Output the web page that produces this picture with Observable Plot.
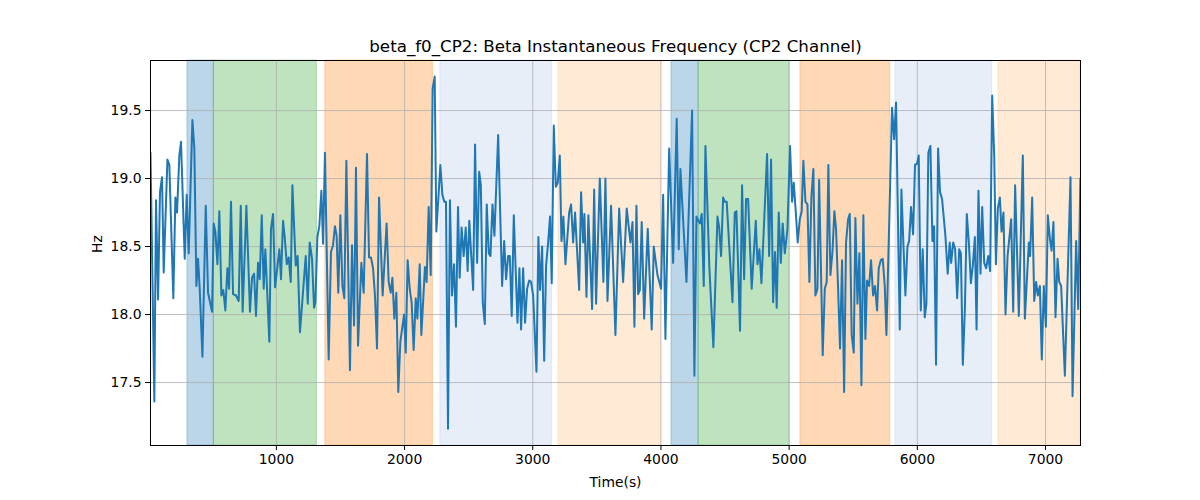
<!DOCTYPE html>
<html>
<head>
<meta charset="utf-8">
<script src="https://cdn.jsdelivr.net/npm/d3@7"></script>
<script src="https://cdn.jsdelivr.net/npm/@observablehq/plot@0.6"></script>
<style>
  html, body { margin: 0; padding: 0; background: #fff; }
  #chart svg { display: block; }
</style>
</head>
<body>
<div id="chart"></div>
<script>
const chartTitle = "beta_f0_CP2: Beta Instantaneous Frequency (CP2 Channel)";
const xLabel = "Time(s)";
const yLabel = "Hz";
const xTicks = [1000, 2000, 3000, 4000, 5000, 6000, 7000];
const yTicks = [17.5, 18.0, 18.5, 19.0, 19.5];

// Shaded segments
const bandStart = [306, 512, 1382, 2279, 3200, 4082, 4294, 5088, 5829, 6633];
const bandEnd   = [512, 1316, 2221, 3150, 4000, 4294, 5004, 5789, 6584, 7273];
const bandState = ["s0", "s1", "s2", "s3", "s4", "s0", "s1", "s2", "s3", "s4"];

// Time series (seconds, Hz)
const timeS = [
18,48,61,77,92,108,121,150,165,196,212,225,243,256,285,300,316,345,360,376,389,402,423,449,467,498,511,524,540,555,571,586,602,618,631,646,662,685,706,722,737,766,794,810,826,841,857,870,886,901,914,945,958,974,990,1023,1036,1052,1065,1081,1096,1112,1125,1151,1166,1184,1229,1245,1260,
1278,1294,1304,1320,1335,1351,1364,1379,1408,1426,1442,1457,1470,1483,1499,1515,1530,1546,1574,1590,1606,1621,1637,1663,1681,1707,1723,1738,1754,1769,1785,1801,1829,1860,1876,1892,1905,1920,1936,1951,1967,1996,2009,2024,2040,2055,2071,2087,2100,2118,2131,2159,2172,2188,2204,2219,2235,2248,2279,2295,2310,2323,2339,2354,2370,2386,2401,2417,2430,2445,2461,2477,2492,2505,
2535,2550,2566,2582,2595,2610,2626,2641,2657,2670,2686,2701,2730,2761,2777,2792,2808,2821,2836,2852,2881,2896,2909,2925,2940,2956,2972,2987,3003,3029,3044,3057,3073,3089,3104,3120,3135,3148,3164,3180,3195,3211,3224,3239,3255,3284,3299,3315,3330,3362,3377,3393,3403,3419,3434,3463,3479,3494,3523,3551,3567,3583,3611,3645,3674,3705,3733,3762,
3778,3793,3809,3822,3835,3850,3869,3897,3928,3944,3973,4001,4017,4035,4064,4095,4123,4139,4152,4199,4243,4261,4277,4292,4305,4318,4334,4347,4378,4409,4441,4454,4469,4485,4498,4513,4558,4576,4589,4617,4633,4649,4664,4680,4708,4740,4753,4768,4784,4828,4844,4859,4875,4890,4903,4919,4935,4950,4966,4987,5007,
5023,5036,5052,5067,5083,5098,5111,5127,5143,5158,5174,5189,5205,5221,5234,5262,5278,5293,5306,5322,5338,5353,5366,5382,5397,5413,5429,5444,5460,5473,5488,5504,5517,5533,5548,5564,5579,5595,5608,5624,5639,5655,5670,5686,5699,5715,5730,5746,5759,5803,5819,5834,5863,5876,5891,5907,5923,5936,5951,5967,5982,5998,6011,6027,6042,6058,6071,6086,6102,6118,6131,6146,6162,6177,6193,6219,6237,6253,
6264,6280,6295,6311,6327,6340,6355,6371,6386,6402,6418,6433,6449,6462,6477,6493,6506,6522,6537,6553,6568,6584,6600,6613,6628,6644,6657,6672,6688,6704,6732,6748,6763,6792,6823,6839,6870,6880,6896,6912,6927,6940,6956,6971,6987,7003,7018,7034,7047,7062,7078,7094,7107,7122,7151,7195,7211,7239,7255,7272
];
const hz = [
19.19,17.36,18.84,18.11,18.90,19.01,18.31,19.14,19.10,18.12,18.86,18.75,19.17,19.27,18.41,18.88,18.45,19.43,19.22,18.21,18.41,18.19,17.69,18.80,18.16,18.02,18.67,18.61,18.37,18.76,18.14,18.18,18.03,18.34,18.19,18.83,18.15,18.14,18.10,18.80,18.02,18.80,18.02,18.27,18.30,17.99,18.38,18.26,18.73,18.19,18.48,17.80,18.63,18.74,18.20,18.48,18.26,18.69,18.57,18.37,18.42,18.24,18.95,18.36,18.43,17.87,18.43,18.08,18.53,
18.41,18.05,18.09,18.57,18.65,18.91,18.52,19.19,17.67,18.46,18.51,18.65,18.58,18.16,18.73,18.21,18.12,19.13,17.59,18.51,17.92,19.08,17.77,18.38,18.16,19.18,18.42,18.42,18.34,18.14,17.75,18.86,18.14,18.67,18.24,18.16,18.27,17.97,18.16,17.43,17.80,18.00,17.72,18.40,18.19,18.09,17.74,18.12,17.97,18.37,17.85,18.35,18.24,18.79,18.29,19.66,19.75,18.61,19.10,18.88,18.83,18.83,17.16,18.84,18.14,18.37,17.91,18.79,18.27,18.64,18.43,18.64,18.32,18.69,
18.18,19.25,18.38,19.05,18.95,18.09,17.93,18.81,18.45,18.43,18.81,18.58,19.32,18.21,18.54,18.26,18.43,18.43,17.99,18.73,17.94,18.34,17.89,18.34,17.94,18.19,18.25,18.24,18.14,17.58,18.57,18.18,18.50,17.66,18.36,18.53,18.72,18.23,19.39,18.94,18.97,19.17,18.54,18.72,18.37,18.75,18.81,18.53,18.75,18.18,18.90,18.53,18.74,18.13,18.73,18.04,18.92,18.08,19.00,18.24,19.00,18.10,18.80,17.85,18.78,18.24,18.78,18.53,
18.68,17.91,18.80,18.15,18.18,18.68,17.97,18.63,17.89,18.50,18.29,18.19,18.88,17.82,19.22,18.38,19.44,18.48,19.07,18.24,19.50,17.55,18.72,18.69,18.67,18.74,18.21,19.24,18.34,17.76,18.72,18.64,18.43,18.86,18.83,18.83,18.09,18.75,18.76,17.88,18.95,18.26,18.85,18.85,18.19,18.69,18.37,18.48,18.23,19.18,18.43,19.14,18.09,18.46,18.05,18.75,18.38,18.67,18.45,18.63,19.24,
18.83,18.97,18.75,18.53,18.70,18.76,19.13,18.83,18.81,18.24,18.87,19.07,18.14,18.19,18.99,17.70,18.19,18.24,19.10,18.29,18.46,18.76,18.63,18.19,17.75,18.40,17.43,18.53,18.70,18.74,17.85,17.72,18.71,18.08,18.45,17.48,18.73,17.82,18.25,18.21,18.40,18.14,18.21,18.03,18.34,18.40,18.41,18.21,17.85,19.52,19.29,19.56,17.89,18.92,18.53,18.14,18.50,18.54,18.79,18.59,19.10,19.11,19.17,18.03,18.48,17.98,18.08,19.19,19.24,18.54,18.65,17.63,19.22,18.90,18.85,18.58,18.30,18.53,
18.38,18.53,18.48,18.12,18.48,18.45,17.63,18.04,18.74,18.53,18.23,18.36,18.57,17.89,18.91,18.30,18.79,18.38,18.34,18.43,18.32,19.61,19.17,18.37,18.78,18.86,18.61,18.75,18.00,18.43,18.70,18.02,18.95,17.99,19.17,17.97,18.53,18.43,18.86,18.10,18.24,18.14,18.21,17.67,18.21,17.91,18.73,18.56,18.47,18.68,17.98,18.41,18.24,18.21,17.55,19.01,17.40,18.54,18.04,19.00
];

const series = timeS.map((t, i) => ({t, v: hz[i]}));
const bands = bandStart.map((s, i) => ({start: s, end: bandEnd[i], state: bandState[i]}));

const font = "'DejaVu Sans', sans-serif";

const chart = Plot.plot({
  width: 1200,
  height: 500,
  marginLeft: 150,
  marginRight: 120,
  marginTop: 60,
  marginBottom: 55,
  style: {fontFamily: font, fontSize: "13.9px", color: "#000", background: "#fff"},
  x: {domain: [18, 7273], label: null},
  y: {domain: [17.037, 19.868], label: null},
  color: {
    domain: ["s0", "s1", "s2", "s3", "s4"],
    range: ["#1f77b4", "#2ca02c", "#ff7f0e", "#aec7e8", "#ffbb78"]
  },
  marks: [
    Plot.rect(bands, {x1: "start", x2: "end", fill: "state", fillOpacity: 0.3, stroke: "state", strokeOpacity: 0.3, strokeWidth: 1}),
    Plot.gridX(xTicks, {stroke: "#b0b0b0", strokeOpacity: 1, strokeWidth: 0.8}),
    Plot.gridY(yTicks, {stroke: "#b0b0b0", strokeOpacity: 1, strokeWidth: 0.8}),
    Plot.line(series, {x: "t", y: "v", stroke: "#1f77b4", strokeWidth: 2, clip: true}),
    Plot.axisX({ticks: xTicks, tickSize: 5, tickPadding: 4, label: null, tickFormat: d3.format("d"), fontSize: 13.9}),
    Plot.axisY({ticks: yTicks, tickSize: 5, tickPadding: 4, label: null, tickFormat: d3.format(".1f"), fontSize: 13.9}),
    Plot.frame({stroke: "#000", strokeWidth: 1}),
    Plot.text([chartTitle], {text: d => d, frameAnchor: "top", lineAnchor: "middle", dy: -14, fontSize: 16.7, fill: "#000"}),
    Plot.text([xLabel], {text: d => d, frameAnchor: "bottom", lineAnchor: "middle", dy: 37, fontSize: 13.9, fill: "#000"}),
    Plot.text([yLabel], {text: d => d, frameAnchor: "left", lineAnchor: "middle", dx: -53, rotate: -90, fontSize: 13.9, fill: "#000"})
  ]
});
document.getElementById("chart").appendChild(chart);
</script>
</body>
</html>
